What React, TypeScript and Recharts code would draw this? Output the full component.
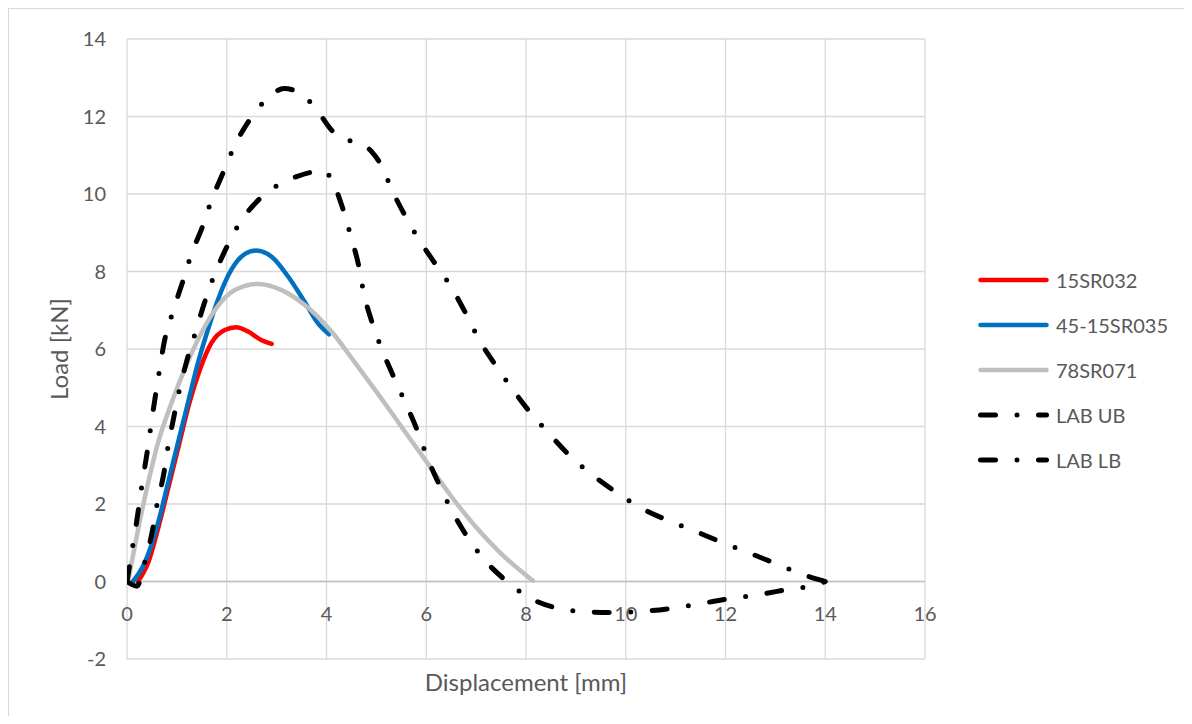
import React from 'react';
import { LineChart, Line, XAxis, YAxis, CartesianGrid, ReferenceLine, Legend } from 'recharts';

const FONT = 'Lato, "Open Sans", "Liberation Sans", sans-serif';
const TEXT = '#595959';

const xTicks = [0, 2, 4, 6, 8, 10, 12, 14, 16];
const yTicks = [-2, 0, 2, 4, 6, 8, 10, 12, 14];
const xTitle = 'Displacement [mm]';
const yTitle = 'Load [kN]';

const seriesNames = ['15SR032', '45-15SR035', '78SR071', 'LAB UB', 'LAB LB'];

// 15SR032
const dispA = [0.22, 0.42, 0.65, 0.85, 1.05, 1.25, 1.46, 1.69, 1.96, 2.19, 2.43, 2.69, 2.9];
const loadA = [0.0, 0.47, 1.5, 2.53, 3.57, 4.6, 5.46, 6.15, 6.49, 6.56, 6.45, 6.23, 6.13];

// 45-15SR035
const dispB = [0.12, 0.35, 0.62, 0.82, 1.02, 1.22, 1.42, 1.62, 1.82, 2.09, 2.36, 2.59, 2.9, 3.23, 3.56, 3.83, 4.05];
const loadB = [0.0, 0.47, 1.5, 2.53, 3.57, 4.6, 5.63, 6.49, 7.26, 8.04, 8.45, 8.54, 8.38, 7.87, 7.22, 6.66, 6.38];

// 78SR071
const dispC = [0.02, 0.22, 0.42, 0.62, 0.89, 1.15, 1.42, 1.76, 2.16, 2.63, 3.1, 3.56, 4.1, 4.57, 5.0, 5.5, 6.0, 6.5, 7.0, 7.5, 8.14];
const loadC = [0.0, 1.33, 2.53, 3.57, 4.6, 5.46, 6.23, 7.0, 7.52, 7.68, 7.52, 7.14, 6.45, 5.65, 4.9, 4.0, 3.1, 2.2, 1.4, 0.72, 0.02];

// LAB UB
const dispUB = [0, 0.1, 0.2, 0.3, 0.4, 0.5, 0.62, 0.75, 0.93, 1.12, 1.29, 1.5, 1.7, 1.92, 2.14, 2.45, 2.8, 3.15, 3.45, 3.8, 4.1, 4.3, 4.63, 4.9, 5.13, 5.29, 5.55, 5.85, 6.18, 6.5, 6.8, 7.06, 7.38, 7.72, 8.08, 8.46, 8.86, 9.32, 9.79, 10.29, 10.82, 11.35, 11.89, 12.45, 12.99, 13.55, 14];
const loadUB = [0, 0.8, 1.6, 2.5, 3.3, 4.2, 5.2, 6.2, 7.0, 7.75, 8.45, 9.11, 9.86, 10.53, 11.2, 11.9, 12.45, 12.72, 12.62, 12.18, 11.65, 11.42, 11.33, 11.1, 10.66, 10.17, 9.5, 8.83, 8.2, 7.6, 6.9, 6.24, 5.6, 4.98, 4.37, 3.82, 3.27, 2.76, 2.32, 1.91, 1.59, 1.32, 1.03, 0.75, 0.47, 0.18, 0];

// LAB LB
const dispLB = [0, 0.2, 0.35, 0.5, 0.6, 0.74, 0.82, 0.94, 1.05, 1.2, 1.37, 1.55, 1.74, 1.97, 2.23, 2.6, 3.05, 3.4, 3.77, 3.95, 4.11, 4.32, 4.49, 4.64, 4.75, 4.91, 5.11, 5.34, 5.59, 5.82, 6.03, 6.26, 6.52, 6.82, 7.16, 7.6, 8.06, 8.6, 9.2, 9.73, 10.35, 10.94, 11.51, 12.09, 12.67, 13.26, 13.83, 14];
const loadLB = [0, -0.12, 0.47, 1.25, 1.97, 2.8, 3.46, 4.25, 4.94, 5.7, 6.42, 7.18, 7.87, 8.55, 9.19, 9.8, 10.25, 10.45, 10.58, 10.6, 10.35, 9.65, 8.9, 8.18, 7.43, 6.7, 5.99, 5.3, 4.59, 3.9, 3.17, 2.5, 1.81, 1.16, 0.57, 0.02, -0.41, -0.68, -0.78, -0.8, -0.77, -0.69, -0.57, -0.44, -0.34, -0.2, -0.08, 0];

const zip = (xs: number[], ys: number[]) => xs.map((x, i) => ({ x, y: ys[i] }));

const DASH = '15 21.5 0 21.5';

const series = [
  { name: seriesNames[0], data: zip(dispA, loadA), color: '#ff0000', width: 4.5, dash: undefined as string | undefined },
  { name: seriesNames[1], data: zip(dispB, loadB), color: '#0070c0', width: 4.5, dash: undefined as string | undefined },
  { name: seriesNames[2], data: zip(dispC, loadC), color: '#bfbfbf', width: 4.5, dash: undefined as string | undefined },
  { name: seriesNames[3], data: zip(dispUB, loadUB), color: '#000000', width: 5, dash: DASH },
  { name: seriesNames[4], data: zip(dispLB, loadLB), color: '#000000', width: 5, dash: DASH },
];

const XTick = (props: any) => {
  const { x, y, payload } = props;
  return (
    <text x={x} y={y - 46} textAnchor="middle" dominantBaseline="central" fill={TEXT} fontSize={20} fontFamily={FONT}>
      {payload.value}
    </text>
  );
};

const LegendContent = () => (
  <div style={{ fontFamily: FONT, fontSize: 20, color: TEXT }}>
    {series.map((s) => (
      <div key={s.name} style={{ height: 45, display: 'flex', alignItems: 'center' }}>
        <svg width={80} height={10} style={{ display: 'block' }}>
          <line x1={4.5} y1={5} x2={70.5} y2={5} stroke={s.color} strokeWidth={s.width} strokeLinecap="round" strokeDasharray={s.dash} />
        </svg>
        <span style={{ whiteSpace: 'nowrap' }}>{s.name}</span>
      </div>
    ))}
  </div>
);

export default function App() {
  return (
    <div style={{ width: 1183, height: 707, borderTop: '1px solid #d9d9d9', borderLeft: '1px solid #d9d9d9', position: 'relative', background: '#fff', fontFamily: FONT }}>
      <LineChart width={1183} height={707} margin={{ top: 30, right: 267, bottom: 0, left: 0 }}>
        <CartesianGrid stroke="#d9d9d9" strokeWidth={1.3} horizontal vertical />
        <XAxis
          type="number"
          dataKey="x"
          domain={[0, 16]}
          ticks={xTicks}
          height={57}
          axisLine={false}
          tickLine={false}
          tickSize={0}
          tickMargin={0}
          tick={XTick}
          allowDataOverflow
          label={{ value: xTitle, position: 'center', dy: -5, fill: TEXT, fontSize: 24, fontFamily: FONT }}
        />
        <YAxis
          type="number"
          domain={[-2, 14]}
          ticks={yTicks}
          width={118}
          axisLine={false}
          tickLine={false}
          tickSize={0}
          tickMargin={21}
          tick={{ fill: TEXT, fontSize: 20, fontFamily: FONT }}
          allowDataOverflow
          label={{ value: yTitle, angle: -90, position: 'center', dx: -9, fill: TEXT, fontSize: 24, fontFamily: FONT }}
        />
        <ReferenceLine y={0} stroke="#bfbfbf" strokeWidth={1.5} />
        {series.map((s) => (
          <Line
            key={s.name}
            data={s.data}
            dataKey="y"
            name={s.name}
            type="monotone"
            stroke={s.color}
            strokeWidth={s.width}
            strokeDasharray={s.dash}
            strokeLinecap="round"
            strokeLinejoin="round"
            dot={false}
            activeDot={false}
            isAnimationActive={false}
          />
        ))}
        <Legend
          layout="horizontal"
          verticalAlign="middle"
          align="center"
          content={LegendContent}
          wrapperStyle={{ top: 248, left: 967, width: 220, height: 225 }}
        />
      </LineChart>
    </div>
  );
}
